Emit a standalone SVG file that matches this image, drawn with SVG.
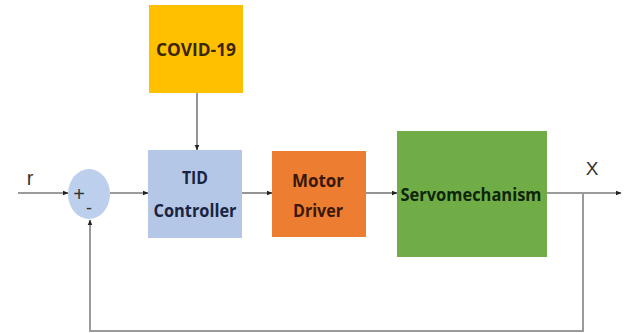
<svg xmlns="http://www.w3.org/2000/svg" width="627" height="333" viewBox="0 0 627 333">
  <style>
    .box-label { font-family: "Open Sans", "Noto Sans", "Liberation Sans", sans-serif; font-weight: bold; text-anchor: middle; dominant-baseline: central; }
    .sig { font-family: "Liberation Sans", Arial, sans-serif; fill: #333333; }
    .wire { fill: none; stroke: #7a7a7a; stroke-width: 1.6; }
    .fb { fill: none; stroke: #9a9a9a; stroke-width: 2; }
  </style>
  <defs>
    <marker id="arrow" viewBox="0 0 10 10" refX="9" refY="5" markerWidth="6" markerHeight="6" orient="auto" markerUnits="userSpaceOnUse">
      <path d="M0,1 L10,5 L0,9 Z" fill="#222"/>
    </marker>
  </defs>
  <rect width="627" height="333" fill="#ffffff"/>

  <g id="connectors">
    <line class="wire" x1="18" y1="193" x2="68" y2="193" marker-end="url(#arrow)"/>
    <line class="wire" x1="110" y1="193" x2="148" y2="193" marker-end="url(#arrow)"/>
    <line class="wire" x1="197" y1="93" x2="197" y2="150" marker-end="url(#arrow)"/>
    <line class="wire" x1="242" y1="193" x2="272" y2="193" marker-end="url(#arrow)"/>
    <line class="wire" x1="366" y1="193" x2="397" y2="193" marker-end="url(#arrow)"/>
    <line class="wire" x1="547" y1="193" x2="621" y2="193" marker-end="url(#arrow)"/>
    <polyline class="fb" points="583,193 583,331 90,331 90,220" marker-end="url(#arrow)"/>
  </g>

  <g id="sum">
    <ellipse cx="89" cy="194" rx="21" ry="25" fill="#bcd0ee"/>
    <text class="sig" x="79" y="201" font-size="20" fill="#222" text-anchor="middle">+</text>
    <text class="sig" x="89" y="214" font-size="18" fill="#222" text-anchor="middle">-</text>
  </g>

  <g id="covid">
    <rect x="149" y="5" width="94" height="88" fill="#ffc000"/>
    <text class="box-label" x="196" y="49" font-size="18" fill="#3a2600" textLength="80" lengthAdjust="spacingAndGlyphs">COVID-19</text>
  </g>

  <g id="tid">
    <rect x="148" y="150" width="94" height="88" fill="#b4c7e7"/>
    <text class="box-label" x="195" y="177" font-size="18" fill="#1a2440" textLength="26" lengthAdjust="spacingAndGlyphs">TID</text>
    <text class="box-label" x="195" y="210" font-size="18" fill="#1a2440" textLength="83" lengthAdjust="spacingAndGlyphs">Controller</text>
  </g>

  <g id="motor">
    <rect x="272" y="151" width="94" height="86" fill="#ed7d31"/>
    <text class="box-label" x="318" y="180" font-size="18" fill="#381805" textLength="52" lengthAdjust="spacingAndGlyphs">Motor</text>
    <text class="box-label" x="318" y="210" font-size="18" fill="#381805" textLength="50" lengthAdjust="spacingAndGlyphs">Driver</text>
  </g>

  <g id="servo">
    <rect x="397" y="131" width="150" height="126" fill="#70ad47"/>
    <text class="box-label" x="471" y="194" font-size="18" fill="#0e2607" textLength="141" lengthAdjust="spacingAndGlyphs">Servomechanism</text>
  </g>

  <g id="labels">
    <text class="sig" x="30" y="185" font-size="20" text-anchor="middle">r</text>
    <text class="sig" x="592" y="175" font-size="19" text-anchor="middle">X</text>
  </g>
</svg>
